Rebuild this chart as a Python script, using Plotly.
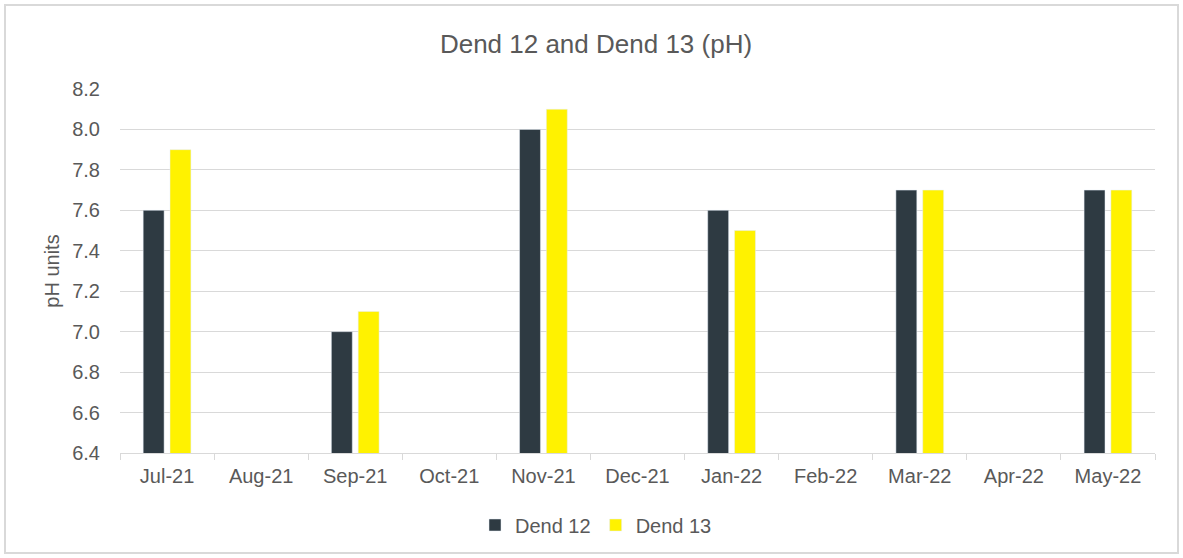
import plotly.graph_objects as go

months = ["Jul-21", "Aug-21", "Sep-21", "Oct-21", "Nov-21", "Dec-21",
          "Jan-22", "Feb-22", "Mar-22", "Apr-22", "May-22"]
dend12 = [7.6, None, 7.0, None, 8.0, None, 7.6, None, 7.7, None, 7.7]
dend13 = [7.9, None, 7.1, None, 8.1, None, 7.5, None, 7.7, None, 7.7]
y_ticks = [6.4, 6.6, 6.8, 7.0, 7.2, 7.4, 7.6, 7.8, 8.0, 8.2]

fig = go.Figure()
fig.add_trace(go.Bar(name="Dend 12", x=months, y=dend12, marker_color="#2E3A42"))
fig.add_trace(go.Bar(name="Dend 13", x=months, y=dend13, marker_color="#FFF200"))

W, H = 1183, 558
L, R, T = 120, 28, 89
ph = 364
B = H - T - ph
pw = W - L - R

GREY = "#595959"
LINE = "#D9D9D9"
FONT = "Liberation Sans, Arial, sans-serif"

fig.update_layout(
    width=W, height=H,
    margin=dict(l=L, r=R, t=T, b=B, pad=0),
    paper_bgcolor="white", plot_bgcolor="white",
    font=dict(family=FONT, size=20, color=GREY),
    title=dict(text="Dend 12 and Dend 13 (pH)", x=596 / W, xanchor="center",
               y=1 - 44 / H, yanchor="middle", font=dict(size=26, color=GREY)),
    barmode="group", bargap=0.43, bargroupgap=0.22,
    showlegend=True,
    legend=dict(orientation="h", x=(596 - L) / pw, xanchor="center",
                y=-(525 - 453) / ph, yanchor="middle", font=dict(size=20, color=GREY),
                itemwidth=30, tracegroupgap=0, bgcolor="rgba(0,0,0,0)"),
    xaxis=dict(type="category", tickson="boundaries", ticks="outside", ticklen=6,
               tickcolor=LINE, showline=True, linecolor=LINE, linewidth=1,
               showgrid=False, ticklabelstandoff=5, tickfont=dict(size=20, color=GREY)),
    yaxis=dict(range=[6.4, 8.2], tickvals=y_ticks, tickformat=".1f",
               showgrid=True, gridcolor=LINE, gridwidth=1, zeroline=False,
               showline=False, ticks="", ticklabelstandoff=19,
               tickfont=dict(size=20, color=GREY),
               title=dict(text="pH units", font=dict(size=20, color=GREY), standoff=7)),
    shapes=[dict(type="rect", xref="paper", yref="paper",
                 x0=(5 - L) / pw, x1=(1178 - L) / pw,
                 y0=(453 - 553) / ph, y1=(453 - 5) / ph,
                 line=dict(color=LINE, width=2), fillcolor="rgba(0,0,0,0)", layer="below")],
)
fig.write_html("out.html", config={"displayModeBar": False},
               post_script="document.body.style.margin='0';document.body.style.padding='0';")
